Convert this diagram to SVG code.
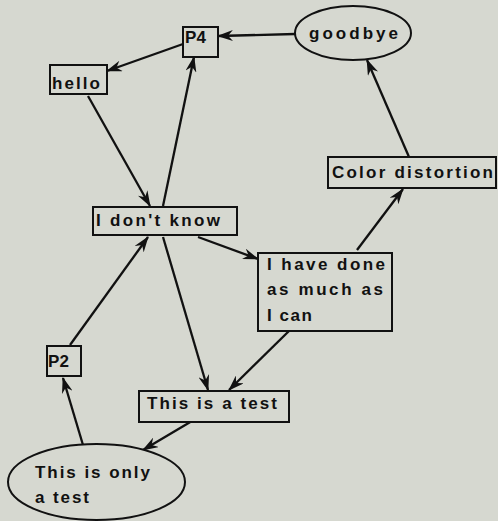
<svg xmlns="http://www.w3.org/2000/svg" width="498" height="521" viewBox="0 0 498 521">
  <style>
    .node rect, .node ellipse { fill: #d6d8d0; stroke: #111; stroke-width: 2; }
    .node text { font-family: "Liberation Sans", Arial, sans-serif; font-weight: bold; font-size: 17px; fill: #111; }
    .edges line { stroke: #111; stroke-width: 2.3; marker-end: url(#arrow); }
  </style>
  <defs>
    <marker id="arrow" viewBox="0 0 16 11" refX="15" refY="5.5" markerWidth="16" markerHeight="11" markerUnits="userSpaceOnUse" orient="auto">
      <path d="M0,0 L16,5.5 L0,11 L5,5.5 Z" fill="#111"/>
    </marker>
  </defs>
  <rect width="498" height="521" fill="#d6d8d0"/>

  <g class="edges">
    <line x1="295" y1="34" x2="218" y2="36"/>
    <line x1="183" y1="44" x2="107" y2="71"/>
    <line x1="88" y1="96" x2="150" y2="206"/>
    <line x1="163" y1="206" x2="194" y2="57"/>
    <line x1="198" y1="237" x2="258" y2="259"/>
    <line x1="163" y1="237" x2="208" y2="390"/>
    <line x1="357" y1="250" x2="403" y2="189"/>
    <line x1="409" y1="157" x2="367" y2="60"/>
    <line x1="289" y1="331" x2="229" y2="390"/>
    <line x1="192" y1="421" x2="143" y2="450"/>
    <line x1="83" y1="445" x2="63" y2="378"/>
    <line x1="70" y1="345" x2="148" y2="237"/>
  </g>

  <g id="p4" class="node">
    <rect x="183" y="27" width="35" height="30"/>
    <text x="185" y="43" textLength="21" lengthAdjust="spacing">P4</text>
  </g>
  <g id="hello" class="node">
    <rect x="50" y="65" width="57" height="29"/>
    <text x="52" y="89" textLength="48" lengthAdjust="spacing">hello</text>
  </g>
  <g id="goodbye" class="node">
    <ellipse cx="353" cy="33" rx="58" ry="27"/>
    <text x="309" y="39" textLength="89" lengthAdjust="spacing">goodbye</text>
  </g>
  <g id="color-distortion" class="node">
    <rect x="328" y="157" width="168" height="31"/>
    <text x="332" y="178" textLength="161" lengthAdjust="spacing">Color distortion</text>
  </g>
  <g id="i-dont-know" class="node">
    <rect x="93" y="207" width="144" height="28"/>
    <text x="96" y="226" textLength="124" lengthAdjust="spacing">I don't know</text>
  </g>
  <g id="i-have-done" class="node">
    <rect x="258" y="253" width="134" height="78"/>
    <text x="267" y="270" textLength="118" lengthAdjust="spacing">I have done</text>
    <text x="267" y="295" textLength="116" lengthAdjust="spacing">as much as</text>
    <text x="267" y="321" textLength="45" lengthAdjust="spacing">I can</text>
  </g>
  <g id="p2" class="node">
    <rect x="47" y="346" width="34" height="30"/>
    <text x="48" y="367" textLength="21" lengthAdjust="spacing">P2</text>
  </g>
  <g id="this-is-a-test" class="node">
    <rect x="139" y="391" width="150" height="31"/>
    <text x="147" y="409" textLength="130" lengthAdjust="spacing">This is a test</text>
  </g>
  <g id="this-is-only-a-test" class="node">
    <ellipse cx="96.5" cy="482" rx="88.5" ry="38"/>
    <text x="35" y="478" textLength="115" lengthAdjust="spacing">This is only</text>
    <text x="35" y="503" textLength="54" lengthAdjust="spacing">a test</text>
  </g>
</svg>
